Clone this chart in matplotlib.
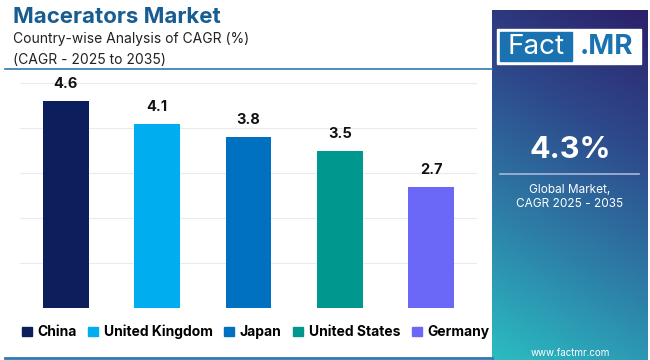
import numpy as np
import matplotlib.pyplot as plt
from matplotlib.colors import LinearSegmentedColormap
from matplotlib.patches import Rectangle
from matplotlib.lines import Line2D

# data
countries = ["China", "United Kingdom", "Japan", "United States", "Germany"]
cagr = [4.6, 4.1, 3.8, 3.5, 2.7]
bar_colors = ["#0c1f5c", "#00aeef", "#0070c0", "#00978f", "#6b68f8"]
global_cagr = "4.3%"

plt.rcParams['font.family'] = ['Inter', 'DejaVu Sans']

fig = plt.figure(figsize=(6.5, 3.6), dpi=100)
fig.patch.set_facecolor("white")

# title block
fig.text(13/650, 1-17/360, "Macerators Market", fontsize=16, fontweight='bold',
         color="#175d92", va='center', ha='left')
fig.text(13/650, 1-39/360, "Country-wise Analysis of CAGR (%)", fontsize=10,
         color="#222222", va='center', ha='left')
fig.text(13/650, 1-60/360, "(CAGR - 2025 to 2035)", fontsize=10,
         color="#222222", va='center', ha='left')
fig.add_artist(Line2D([5/650, 492/650], [1-69/360, 1-69/360], color="#2f7ab0", lw=1.2))
fig.add_artist(Line2D([5/650, 492/650], [1-358/360, 1-358/360], color="#2f7ab0", lw=2))

# bar chart
ax = fig.add_axes([20/650, 1-308/360, 457/650, 225/360])
x = np.arange(len(countries))
ax.bar(x, cagr, width=0.5, color=bar_colors, zorder=3)
for xi, v in zip(x, cagr):
    ax.text(xi, v + 0.22, f"{v}", ha='center', va='bottom', fontsize=10.5,
            fontweight='bold', color="#111111")
ax.set_xlim(-0.5, len(countries) - 0.5)
ax.set_ylim(0, 5)
ax.set_yticks(np.arange(0, 6, 1))
ax.grid(axis='y', color="#e8ebf0", lw=0.8, zorder=0)
ax.set_xticks([])
ax.tick_params(left=False, labelleft=False)
for s in ax.spines.values():
    s.set_visible(False)

# legend
handles = [Rectangle((0, 0), 1, 1, color=c) for c in bar_colors]
fig.legend(handles, countries, loc='center left', bbox_to_anchor=(22/650, 1-332/360),
           ncol=5, frameon=False, prop={'weight': 'bold', 'size': 10},
           handlelength=0.7, handleheight=0.7, handletextpad=0.4, columnspacing=0.85,
           borderaxespad=0, borderpad=0)

# right panel with gradient
pax = fig.add_axes([492/650, 0, 156/650, 350/360])
cmap = LinearSegmentedColormap.from_list("panel", ["#2c206a", "#2e4a8c", "#2d80a8", "#2bbcc2"])
gy, gx = np.mgrid[0:1:200j, 0:1:100j]
grad = 0.8 * gy + 0.2 * (1 - gx)
pax.imshow(grad, cmap=cmap, aspect='auto', extent=[0, 1, 0, 1], origin='upper')
pax.set_xlim(0, 1)
pax.set_ylim(0, 1)
pax.axis('off')

# logo
def px(xp, yp):
    return ((xp - 492) / 156, (350 - yp) / 350)

lx0, ly0 = px(497, 54)
lx1, ly1 = px(641, 19)
pax.add_patch(Rectangle((lx0, ly0), lx1 - lx0, ly1 - ly0, color="white", zorder=2))
bx0, _ = px(500, 0)
bx1, _ = px(572, 0)
_, by0 = px(0, 51)
_, by1 = px(0, 22)
pax.add_patch(Rectangle((bx0, by0), bx1 - bx0, by1 - by0, color="#1a73b0", zorder=3))
pax.text((bx0 + bx1) / 2, (by0 + by1) / 2, "Fact", color="white", fontsize=20,
         ha='center', va='center', zorder=4)
pax.text(px(606, 0)[0], (by0 + by1) / 2, ".MR", color="#1a73b0", fontsize=20,
         fontweight='bold', ha='center', va='center', zorder=4)

pax.text(0.5, px(0, 140)[1], global_cagr, color="white", fontsize=22,
         fontweight='bold', ha='center', va='center')
pax.plot([px(500, 0)[0], px(639, 0)[0]], [px(0, 164)[1]] * 2, color="#a9b7da", lw=1.2)
pax.text(0.5, px(0, 180)[1], "Global Market,", color="white", fontsize=8.5,
         ha='center', va='center')
pax.text(0.5, px(0, 194)[1], "CAGR 2025 - 2035", color="white", fontsize=8.5,
         ha='center', va='center')
pax.text(0.5, px(0, 343)[1], "www.factmr.com", color="white", fontsize=7,
         ha='center', va='center')

fig.savefig("out.png", dpi=100)
